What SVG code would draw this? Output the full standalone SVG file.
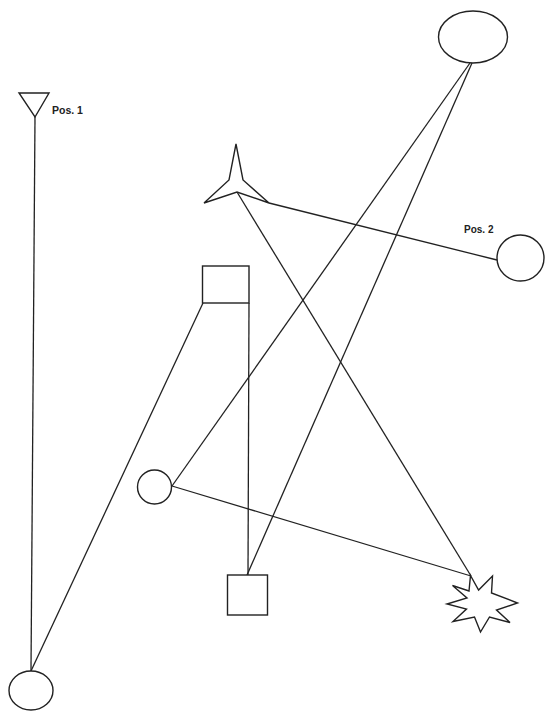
<svg xmlns="http://www.w3.org/2000/svg" width="551" height="723" viewBox="0 0 551 723">
<style>
.s{fill:#fff;stroke:#222;stroke-width:1.4;stroke-linejoin:miter}
.c{stroke:#222;stroke-width:1.3;fill:none}
.t{font-family:"Liberation Sans",Arial,sans-serif;font-weight:bold;fill:#222}
</style>
<rect width="551" height="723" fill="#fff"/>
<g id="connectors">
<line class="c" x1="35" y1="117" x2="31" y2="671"/>
<line class="c" x1="203" y1="303" x2="31" y2="671"/>
<line class="c" x1="249" y1="303" x2="248" y2="575"/>
<line class="c" x1="470" y1="63" x2="172" y2="486"/>
<line class="c" x1="472" y1="63" x2="247" y2="575"/>
<line class="c" x1="269" y1="203" x2="497" y2="260"/>
<line class="c" x1="237" y1="192" x2="471" y2="576"/>
<line class="c" x1="172" y1="486" x2="471" y2="576"/>
</g>
<g id="pos1">
<polygon class="s" points="19,93 49,93 35,117"/>
<text class="t" x="52" y="114" font-size="10.5">Pos. 1</text>
</g>
<g id="star">
<polygon class="s" points="236,144 243,180 269,203 237,192 204,203 229,180"/>
</g>
<g id="top-ellipse">
<ellipse class="s" cx="473" cy="37" rx="34.5" ry="26"/>
</g>
<g id="pos2">
<ellipse class="s" cx="520.5" cy="258" rx="23.5" ry="23"/>
<text class="t" x="464" y="233" font-size="10">Pos. 2</text>
</g>
<g id="top-square">
<rect class="s" x="202.5" y="266" width="46.5" height="37"/>
</g>
<g id="small-circle">
<circle class="s" cx="154.5" cy="487" r="17"/>
</g>
<g id="bottom-square">
<rect class="s" x="227.5" y="575" width="40" height="40"/>
</g>
<g id="burst">
<polygon class="s" points="470.5,575.5 478.6,590 492.5,576 491.5,593 517.5,603 496.5,610 510,622.5 489.5,617 480.5,632 474.5,617 453,621.5 466.5,609 447,604 467,598 452.5,585.5 469,591"/>
</g>
<g id="bottom-ellipse">
<ellipse class="s" cx="31" cy="690.5" rx="22" ry="19.5"/>
</g>
</svg>
